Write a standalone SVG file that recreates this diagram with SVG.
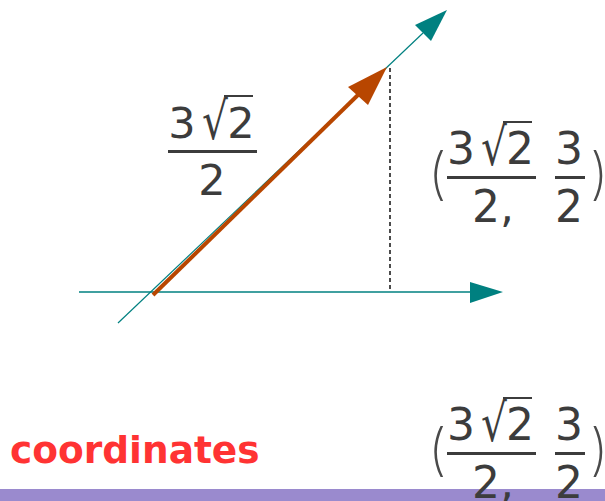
<svg xmlns="http://www.w3.org/2000/svg" width="605" height="501" viewBox="0 0 605 501">
<style>
.m{font-family:"DejaVu Sans",sans-serif;fill:#3c3c3c}
.p{font-family:Inter,"DejaVu Sans",sans-serif;font-weight:200;fill:#4a4a4a}
.bar{fill:#3c3c3c}
.teal{stroke:#008080;fill:none}
</style>
<rect x="0" y="0" width="605" height="501" fill="#ffffff"/>
<rect id="footer" x="0" y="489" width="605" height="12" fill="#9a8ace"/>
<g id="connectors">
<line class="teal" x1="118" y1="323" x2="423" y2="33" stroke-width="1.2"/>
<polygon points="447,10 415,25 431,41" fill="#008080"/>
<line class="teal" x1="79" y1="292" x2="472" y2="292" stroke-width="1.3"/>
<polygon points="503,292 470,282 470,303" fill="#008080"/>
<line x1="153" y1="295" x2="360" y2="93" stroke="#b84600" stroke-width="4"/>
<polygon points="387,67 348,87 368,105" fill="#b84600"/>
<line x1="390" y1="68" x2="390" y2="291" stroke="#000" stroke-width="1.4" stroke-dasharray="4,3"/>
</g>
<g id="label-length">
<text class="m" x="182" y="138" font-size="43" text-anchor="middle">3</text>
<text class="m" transform="translate(202,139) scale(0.78,1)" font-size="52">√</text>
<rect class="bar" x="224" y="95" width="29" height="2"/>
<text class="m" x="241" y="138" font-size="43" text-anchor="middle">2</text>
<rect class="bar" x="168" y="150" width="89" height="3"/>
<text class="m" x="212" y="195" font-size="43" text-anchor="middle">2</text>
</g>
<g id="label-point">
<text class="p" x="428" y="193" font-size="56">(</text>
<text class="m" x="461" y="164" font-size="44" text-anchor="middle">3</text>
<text class="m" transform="translate(481,165) scale(0.78,1)" font-size="52">√</text>
<rect class="bar" x="503" y="121" width="29" height="2"/>
<text class="m" x="520" y="164" font-size="44" text-anchor="middle">2</text>
<rect class="bar" x="447" y="176" width="89" height="3"/>
<text class="m" x="472" y="222" font-size="44">2,</text>
<text class="m" x="569" y="164" font-size="44" text-anchor="middle">3</text>
<rect class="bar" x="555" y="176" width="30" height="3"/>
<text class="m" x="569" y="222" font-size="44" text-anchor="middle">2</text>
<text class="p" x="590" y="193" font-size="56">)</text>
</g>
<g id="title">
<text x="10" y="463" font-family="'DejaVu Sans',sans-serif" font-weight="bold" font-size="37.5" fill="#ff3333">coordinates</text>
</g>
<g id="label-coords">
<text class="p" x="428" y="469" font-size="56">(</text>
<text class="m" x="461" y="440" font-size="44" text-anchor="middle">3</text>
<text class="m" transform="translate(481,441) scale(0.78,1)" font-size="52">√</text>
<rect class="bar" x="503" y="397" width="29" height="2"/>
<text class="m" x="520" y="440" font-size="44" text-anchor="middle">2</text>
<rect class="bar" x="447" y="452" width="89" height="3"/>
<text class="m" x="472" y="498" font-size="44">2,</text>
<text class="m" x="569" y="440" font-size="44" text-anchor="middle">3</text>
<rect class="bar" x="555" y="452" width="30" height="3"/>
<text class="m" x="569" y="498" font-size="44" text-anchor="middle">2</text>
<text class="p" x="590" y="469" font-size="56">)</text>
</g>
</svg>
